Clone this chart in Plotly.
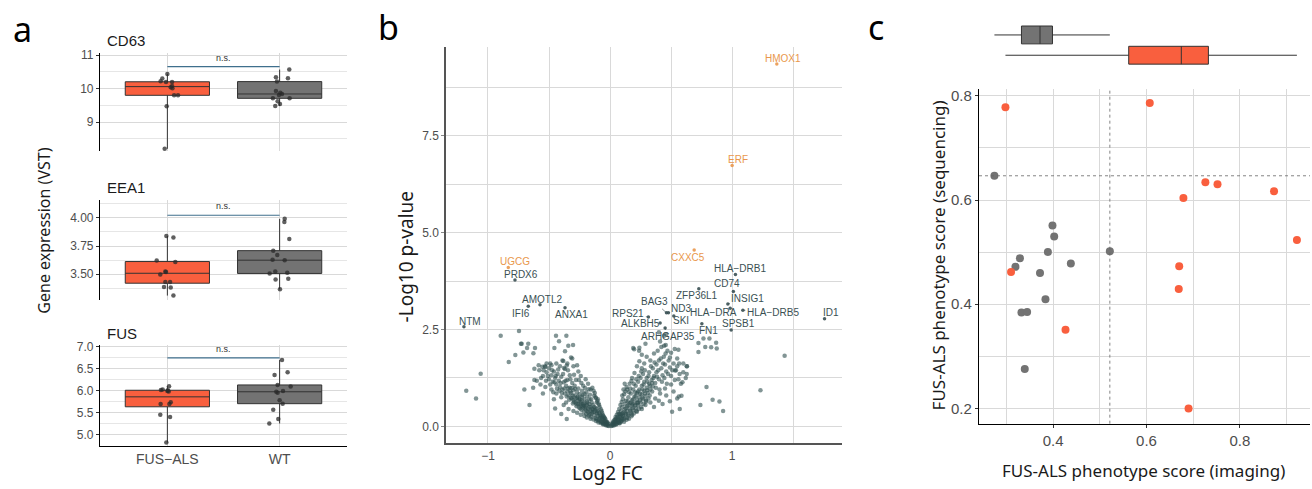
import numpy as np
import plotly.graph_objects as go

W, H = 1312, 489
TICK_FONT = "Liberation Sans, Arial, sans-serif"
TITLE_FONT = "Noto Sans, Open Sans, sans-serif"
RED = "#F95F3E"
GREY = "#737373"
GRID = "#d9d9d9"
GRID_MINOR = "#e6e6e6"

# ---------------- Panel a data ----------------
group_labels = ["FUS−ALS", "WT"]
gene_names = ["CD63", "EEA1", "FUS"]

cd63_fus = [10.44, 10.30, 10.22, 10.20, 10.20, 10.08, 10.04, 10.01, 9.80, 9.80, 9.47, 8.20]
cd63_fus_jitter = [0.0, -0.045, -0.06, -0.012, 0.042, 0.042, 0.03, 0.045, 0.06, 0.095, -0.006, -0.024]
cd63_wt = [10.57, 10.34, 10.31, 10.21, 9.93, 9.88, 9.84, 9.81, 9.71, 9.71, 9.62, 9.54, 9.48]
cd63_wt_jitter = [0.086, -0.033, 0.074, -0.024, -0.033, 0.006, 0.021, -0.006, -0.06, 0.089, -0.018, 0.003, -0.039]

eea1_fus = [3.839, 3.827, 3.621, 3.609, 3.524, 3.518, 3.497, 3.43, 3.43, 3.386, 3.38, 3.309]
eea1_fus_jitter = [-0.009, 0.054, -0.095, 0.071, -0.018, -0.012, -0.063, -0.018, 0.024, -0.03, 0.03, 0.054]
eea1_wt = [3.992, 3.965, 3.812, 3.709, 3.671, 3.627, 3.624, 3.524, 3.506, 3.512, 3.453, 3.459, 3.365]
eea1_wt_jitter = [0.045, 0.042, 0.086, -0.057, -0.021, -0.063, 0.045, -0.039, -0.089, 0.068, -0.036, 0.077, 0.003]

fus_fus = [6.106, 6.022, 6.03, 6.012, 6.0, 5.985, 5.745, 5.70, 5.70, 5.458, 5.406, 4.83]
fus_fus_jitter = [0.015, -0.057, -0.042, 0.005, 0.0, 0.012, 0.03, -0.06, 0.018, -0.063, 0.024, -0.009]
fus_wt = [6.70, 6.42, 6.36, 6.135, 6.10, 5.98, 6.0, 5.96, 5.79, 5.71, 5.57, 5.36, 5.26]
fus_wt_jitter = [0.021, 0.071, -0.045, -0.018, 0.098, -0.03, 0.03, -0.018, 0.0, 0.027, -0.057, -0.012, -0.092]

signif_y = [10.66, 4.024, 6.75]
signif_label = "n.s."

# ---------------- Panel b data ----------------
volcano_points = [
    # left arm
    (-0.02, 0.05), (-0.03, 0.04), (-0.04, 0.12), (-0.05, 0.08), (-0.06, 0.19), (-0.07, 0.13), (-0.08, 0.30),
    (-0.08, 0.22), (-0.09, 0.17), (-0.10, 0.40), (-0.10, 0.27), (-0.11, 0.33), (-0.12, 0.22), (-0.12, 0.48),
    (-0.13, 0.38), (-0.13, 0.29), (-0.14, 0.55), (-0.14, 0.44), (-0.15, 0.34), (-0.15, 0.62), (-0.16, 0.50),
    (-0.16, 0.40), (-0.17, 0.70), (-0.17, 0.58), (-0.18, 0.45), (-0.18, 0.36), (-0.19, 0.77), (-0.19, 0.64),
    (-0.20, 0.52), (-0.20, 0.43), (-0.21, 0.84), (-0.21, 0.70), (-0.22, 0.58), (-0.22, 0.48), (-0.23, 0.92),
    (-0.23, 0.76), (-0.24, 0.63), (-0.24, 0.53), (-0.25, 0.83), (-0.25, 0.69), (-0.26, 0.98), (-0.26, 0.58),
    (-0.27, 0.88), (-0.27, 0.74), (-0.28, 0.62), (-0.29, 1.05), (-0.29, 0.80), (-0.30, 0.93), (-0.30, 0.68),
    (-0.31, 1.12), (-0.32, 0.86), (-0.32, 0.74), (-0.33, 1.00), (-0.34, 0.80), (-0.35, 1.20), (-0.35, 0.90),
    (-0.36, 1.05), (-0.37, 0.85), (-0.38, 1.14), (-0.39, 0.95), (-0.40, 1.28), (-0.41, 1.02), (-0.42, 1.18),
    (-0.43, 1.35), (-0.44, 1.08), (-0.45, 1.25), (-0.46, 1.42), (-0.47, 1.15), (-0.48, 1.32), (-0.50, 1.22),
    (-0.52, 1.40), (-0.53, 1.53), (-0.55, 1.30), (-0.58, 1.45), (-0.60, 1.18),
    (-0.11, 0.62), (-0.13, 0.80), (-0.16, 0.95), (-0.18, 1.10), (-0.20, 1.22), (-0.22, 1.05), (-0.24, 1.30),
    (-0.26, 1.42), (-0.28, 1.20), (-0.30, 1.55), (-0.33, 1.32), (-0.35, 1.62), (-0.37, 1.48), (-0.39, 1.70),
    (-0.31, 1.75), (-0.27, 1.58), (-0.41, 1.55), (-0.44, 1.62), (-0.48, 1.58), (-0.50, 1.50), (-0.52, 1.62),
    (-0.36, 0.62), (-0.40, 0.75), (-0.44, 0.85), (-0.48, 0.95), (-0.53, 1.02), (-0.57, 1.08), (-0.62, 1.20),
    (-0.63, 1.00), (-0.55, 0.85), (-0.46, 0.70), (-0.38, 0.55), (-0.34, 0.45), (-0.30, 0.40), (-0.27, 0.35),
    (-0.24, 0.30), (-0.21, 0.27), (-0.16, 0.20), (-0.19, 0.23), (-0.06, 0.30), (-0.05, 0.24), (-0.04, 0.20),
    (-0.07, 0.40), (-0.09, 0.55), (-0.10, 0.70), (-0.12, 0.75), (-0.45, 0.46), (-0.355, 0.19), (-0.40, 0.32),
    (-0.01, 0.01), (-0.02, 0.02), (-0.03, 0.09), (-0.05, 0.16), (-0.06, 0.11), (-0.07, 0.25), (-0.09, 0.35),
    (-0.11, 0.45), (-0.13, 0.50), (-0.15, 0.45), (-0.17, 0.50), (-0.19, 0.55), (-0.21, 0.60), (-0.23, 0.66),
    (-0.25, 0.72), (-0.02, 0.10), (-0.04, 0.06), (-0.06, 0.07), (-0.08, 0.12), (-0.10, 0.15), (-0.11, 0.19),
    (-0.015, 0.06), (-0.025, 0.11), (-0.035, 0.15), (-0.045, 0.22), (-0.055, 0.27), (-0.065, 0.35),
    (-0.075, 0.44), (-0.085, 0.50), (-0.095, 0.60), (-0.105, 0.66), (-0.115, 0.73), (-0.125, 0.86),
    (-0.135, 0.92), (-0.145, 1.00), (-0.155, 0.70), (-0.165, 0.82), (-0.175, 0.96), (-0.185, 0.61),
    (-0.195, 0.88), (-0.205, 0.99), (-0.215, 0.54), (-0.225, 0.81), (-0.235, 1.12), (-0.245, 0.46),
    (-0.255, 1.20), (-0.265, 0.77), (-0.275, 0.52), (-0.285, 0.97), (-0.295, 1.33), (-0.305, 0.59),
    (-0.315, 0.99), (-0.325, 1.22), (-0.335, 0.69), (-0.345, 1.45), (-0.355, 0.77), (-0.365, 1.18),
    (-0.375, 0.98), (-0.385, 1.35), (-0.395, 0.86), (-0.405, 1.12), (-0.415, 0.92), (-0.425, 1.47),
    (-0.435, 0.97), (-0.445, 1.30), (-0.455, 1.14), (-0.465, 0.88), (-0.475, 1.45), (-0.49, 1.08),
    (-0.51, 1.30), (-0.525, 1.18), (-0.545, 1.45), (-0.565, 1.25), (-0.585, 1.58), (-0.035, 0.03),
    (-0.055, 0.05), (-0.075, 0.09), (-0.095, 0.10), (-0.115, 0.14), (-0.135, 0.18), (-0.155, 0.25),
    (-0.175, 0.28), (-0.195, 0.32), (-0.215, 0.37), (-0.235, 0.43), (-0.255, 0.49), (-0.275, 0.57),
    (-0.295, 0.63), (-0.315, 0.72), (-0.065, 0.21), (-0.085, 0.27), (-0.105, 0.36), (-0.125, 0.41),
    (-0.145, 0.37), (-0.165, 0.31), (-0.185, 0.40), (-0.205, 0.47), (-0.225, 0.53), (-0.245, 0.58),
    (-0.265, 0.66), (-0.285, 0.72), (-0.305, 0.80), (-0.325, 0.90), (-0.345, 0.98),
    # left scattered
    (-0.896, 2.34), (-0.746, 2.46), (-0.73, 2.13), (-0.776, 1.84), (-0.83, 1.66), (-0.68, 2.02), (-0.628, 1.89),
    (-0.615, 2.02), (-0.71, 1.91), (-1.06, 1.36), (-1.178, 0.92), (-1.098, 0.72), (-0.702, 0.95), (-0.66, 0.55),
    (-0.443, 2.34), (-0.358, 2.34), (-0.418, 2.20), (-0.342, 2.08), (-0.303, 2.10), (-0.369, 1.94),
    (-0.320, 1.78), (-0.383, 1.69), (-0.355, 1.57), (-0.377, 1.51), (-0.456, 2.02), (-0.533, 1.55),
    (-0.49, 1.62), (-0.62, 1.49), (-0.555, 1.54), (-0.724, 2.13), (-0.67, 2.13),
    # right arm
    (0.02, 0.04), (0.03, 0.10), (0.04, 0.07), (0.04, 0.18), (0.05, 0.13), (0.06, 0.25), (0.06, 0.10),
    (0.07, 0.18), (0.07, 0.32), (0.08, 0.24), (0.08, 0.14), (0.09, 0.40), (0.09, 0.30), (0.10, 0.20),
    (0.10, 0.50), (0.11, 0.36), (0.11, 0.27), (0.12, 0.58), (0.12, 0.44), (0.12, 0.22), (0.13, 0.66),
    (0.13, 0.32), (0.14, 0.52), (0.14, 0.40), (0.15, 0.75), (0.15, 0.28), (0.16, 0.60), (0.16, 0.46),
    (0.17, 0.85), (0.17, 0.36), (0.18, 0.68), (0.18, 0.53), (0.19, 0.95), (0.19, 0.42), (0.20, 0.77),
    (0.20, 0.60), (0.21, 1.05), (0.21, 0.48), (0.22, 0.86), (0.22, 0.68), (0.23, 1.15), (0.23, 0.55),
    (0.24, 0.95), (0.24, 0.75), (0.25, 1.25), (0.25, 0.62), (0.26, 1.05), (0.26, 0.83), (0.27, 1.35),
    (0.27, 0.70), (0.28, 1.15), (0.28, 0.92), (0.29, 0.78), (0.30, 1.25), (0.30, 1.00), (0.31, 0.86),
    (0.32, 1.40), (0.32, 1.10), (0.33, 0.95), (0.34, 1.20), (0.35, 1.50), (0.35, 1.03), (0.36, 1.30),
    (0.37, 1.12), (0.38, 1.60), (0.38, 1.40), (0.40, 1.22), (0.40, 1.70), (0.42, 1.50), (0.43, 1.32),
    (0.44, 1.80), (0.45, 1.60), (0.46, 1.42), (0.48, 1.70), (0.49, 1.52), (0.50, 1.30), (0.52, 1.62),
    (0.54, 1.45), (0.55, 1.75),
    (0.14, 0.95), (0.16, 1.10), (0.18, 1.25), (0.20, 1.38), (0.22, 1.55), (0.24, 1.68), (0.26, 1.50),
    (0.28, 1.62), (0.30, 1.80), (0.33, 1.70), (0.36, 1.88), (0.39, 1.95), (0.42, 2.05), (0.47, 1.95),
    (0.50, 1.90), (0.53, 2.00), (0.10, 0.80), (0.11, 0.95), (0.12, 1.10), (0.29, 0.55), (0.33, 0.62),
    (0.37, 0.72), (0.41, 0.85), (0.45, 0.98), (0.50, 1.08), (0.56, 1.22), (0.60, 1.40), (0.63, 1.55),
    (0.58, 1.10), (0.52, 0.90), (0.46, 0.80), (0.40, 0.66), (0.26, 0.45), (0.22, 0.38), (0.18, 0.30),
    (0.14, 0.22), (0.36, 0.50), (0.43, 0.58), (0.49, 0.65), (0.55, 0.72),
    (0.01, 0.01), (0.02, 0.02), (0.03, 0.05), (0.05, 0.20), (0.06, 0.16), (0.07, 0.11), (0.08, 0.32),
    (0.09, 0.20), (0.10, 0.33), (0.11, 0.18), (0.13, 0.47), (0.15, 0.55), (0.17, 0.62), (0.19, 0.70),
    (0.21, 0.78), (0.23, 0.90), (0.02, 0.08), (0.04, 0.12), (0.05, 0.05), (0.08, 0.08), (0.09, 0.12),
    (0.015, 0.06), (0.025, 0.13), (0.035, 0.16), (0.045, 0.24), (0.055, 0.30), (0.065, 0.37), (0.075, 0.45),
    (0.085, 0.55), (0.095, 0.63), (0.105, 0.70), (0.115, 0.83), (0.125, 0.90), (0.135, 1.02), (0.145, 0.65),
    (0.155, 0.88), (0.165, 0.98), (0.175, 1.17), (0.185, 0.58), (0.195, 1.10), (0.205, 0.88), (0.215, 1.22),
    (0.225, 0.62), (0.235, 1.30), (0.245, 0.84), (0.255, 1.42), (0.265, 0.95), (0.275, 1.08), (0.285, 1.45),
    (0.295, 0.67), (0.305, 1.15), (0.315, 1.30), (0.325, 0.80), (0.335, 1.55), (0.345, 0.90), (0.355, 1.25),
    (0.365, 1.65), (0.375, 1.00), (0.385, 1.28), (0.395, 1.45), (0.405, 0.95), (0.415, 1.75), (0.425, 1.15),
    (0.435, 1.62), (0.445, 1.25), (0.455, 1.88), (0.465, 1.10), (0.475, 1.35), (0.49, 1.78), (0.51, 1.45),
    (0.53, 1.20), (0.55, 1.55), (0.57, 1.35), (0.60, 1.62), (0.62, 1.25), (0.035, 0.03), (0.055, 0.07),
    (0.075, 0.09), (0.095, 0.15), (0.115, 0.12), (0.135, 0.17), (0.155, 0.20), (0.175, 0.26), (0.195, 0.33),
    (0.215, 0.40), (0.235, 0.45), (0.255, 0.50), (0.275, 0.58), (0.295, 0.64), (0.315, 0.72), (0.065, 0.21),
    (0.085, 0.28), (0.105, 0.28), (0.125, 0.36), (0.145, 0.31), (0.165, 0.40), (0.185, 0.47), (0.205, 0.54),
    (0.225, 0.60), (0.245, 0.67), (0.265, 0.74), (0.285, 0.85), (0.305, 0.93), (0.325, 1.05), (0.345, 1.12),
    # right scattered
    (0.29, 2.13), (0.238, 1.95), (0.19, 2.02), (0.26, 1.85), (0.41, 2.19), (0.443, 2.08), (0.456, 2.10),
    (0.40, 2.43), (0.443, 2.34), (0.46, 2.38), (0.56, 1.98), (0.724, 1.92), (0.78, 2.05), (0.828, 2.04),
    (0.874, 2.01), (1.43, 1.82), (1.232, 0.93), (0.79, 1.02), (0.74, 0.55), (0.84, 0.69), (0.896, 0.64),
    (0.926, 0.40), (0.566, 1.62), (0.628, 1.55), (0.508, 0.38), (0.571, 0.45), (0.585, 0.79), (0.563, 0.77),
    (0.628, 1.35), (0.533, 1.44), (0.593, 1.14), (0.765, 2.27), (0.814, 2.27), (0.869, 2.16), (0.724, 2.15),
    (0.197, 1.99), (0.24, 2.03),
]

volcano_genes = ["HMOX1", "ERF", "UGCG", "PRDX6", "CXXC5", "HLA−DRB1", "CD74", "ZFP36L1", "INSIG1",
                 "BAG3", "ND3", "RPS21", "HLA−DRA", "HLA−DRB5", "SKI", "ALKBH5", "SPSB1", "FN1",
                 "ARHGAP35", "NTM", "IFI6", "AMOTL2", "ANXA1", "ID1"]
volcano_gene_fc = [1.366, 1.0, -0.834, -0.779, 0.689, 1.027, 1.01, 0.727, 0.965, 0.462, 0.478, 0.314,
                   0.984, 1.088, 0.522, 0.41, 0.992, 0.752, 0.451, -1.197, -0.67, -0.574, -0.369, 1.757]
volcano_gene_p = [9.35, 6.73, 4.10, 3.78, 4.55, 3.92, 3.48, 3.55, 3.16, 2.93, 2.93, 2.82, 3.05, 3.00,
                  2.85, 2.67, 2.49, 2.65, 2.54, 2.57, 3.10, 3.14, 3.06, 2.78]
volcano_highlight = ["HMOX1", "ERF", "UGCG", "CXXC5"]

# ---------------- Panel c data ----------------
wt_imaging = [0.2744, 0.3987, 0.4024, 0.3889, 0.5215, 0.329, 0.3194, 0.438, 0.372, 0.3837, 0.3323, 0.3444, 0.3394]
wt_sequencing = [0.6465, 0.5512, 0.530, 0.5004, 0.5017, 0.4884, 0.4718, 0.478, 0.460, 0.4095, 0.384, 0.385, 0.2754]
fus_imaging = [0.298, 0.607, 0.726, 0.752, 0.873, 0.679, 0.922, 0.31, 0.670, 0.669, 0.4266, 0.690]
fus_sequencing = [0.778, 0.786, 0.634, 0.630, 0.617, 0.604, 0.523, 0.462, 0.473, 0.429, 0.351, 0.2]

# ---------------- helpers ----------------
def dom_x(a, b):
    return [a / W, b / W]

def dom_y(top, bottom):
    return [1 - bottom / H, 1 - top / H]

def stats(v):
    v = np.asarray(v, dtype=float)
    q1, med, q3 = np.percentile(v, [25, 50, 75])
    return float(q1), float(med), float(q3), float(v.min()), float(v.max())

fig = go.Figure()

# ---------------- Panel a traces ----------------
panel_a_data = [
    (cd63_fus, cd63_fus_jitter, cd63_wt, cd63_wt_jitter),
    (eea1_fus, eea1_fus_jitter, eea1_wt, eea1_wt_jitter),
    (fus_fus, fus_fus_jitter, fus_wt, fus_wt_jitter),
]
for i, (fv, fj, wv, wj) in enumerate(panel_a_data):
    xa = "x" if i == 0 else f"x{i+1}"
    ya = "y" if i == 0 else f"y{i+1}"
    for pos, vals, col in [(1, fv, RED), (2, wv, GREY)]:
        q1, med, q3, lo, hi = stats(vals)
        fig.add_trace(go.Box(x=[pos], q1=[q1], median=[med], q3=[q3], lowerfence=[lo], upperfence=[hi],
                             width=0.75, fillcolor=col, line=dict(color="#333333", width=1),
                             whiskerwidth=0, boxpoints=False, xaxis=xa, yaxis=ya, hoverinfo="skip"))
    for pos, vals, jit in [(1, fv, fj), (2, wv, wj)]:
        fig.add_trace(go.Scatter(x=[pos + j for j in jit], y=vals, mode="markers",
                                 marker=dict(size=4.5, color="#2a2a2a", opacity=0.75),
                                 xaxis=xa, yaxis=ya, hoverinfo="skip"))

# ---------------- Panel b traces ----------------
vx = [p[0] for p in volcano_points]
vy = [p[1] for p in volcano_points]
fig.add_trace(go.Scatter(x=vx, y=vy, mode="markers",
                         marker=dict(size=4.5, color="#2F4F4F", opacity=0.6),
                         xaxis="x4", yaxis="y4", hoverinfo="skip"))
DARK_LABEL = "#3a5053"
ORANGE = "#E9974C"
gcols = [ORANGE if g in volcano_highlight else DARK_LABEL for g in volcano_genes]
fig.add_trace(go.Scatter(x=volcano_gene_fc, y=volcano_gene_p, mode="markers",
                         marker=dict(size=3.5, color=gcols, opacity=0.9),
                         xaxis="x4", yaxis="y4", hoverinfo="skip"))

# label offsets in pixels (text centre relative to point)
label_offsets = {
    "HMOX1": (6, -6), "ERF": (6, -6), "UGCG": (7, -6), "PRDX6": (6, -5), "CXXC5": (-6, 7),
    "HLA−DRB1": (5, -6), "CD74": (-6, -8), "ZFP36L1": (-2, 7), "INSIG1": (20, -5), "BAG3": (-12, -11),
    "ND3": (13, -4), "RPS21": (-20, -4), "HLA−DRA": (-17, 4), "HLA−DRB5": (30, 2), "SKI": (7, 5),
    "ALKBH5": (-20, 1), "SPSB1": (7, -6), "FN1": (7, 7), "ARHGAP35": (3, 9), "NTM": (6, -5),
    "IFI6": (-7, 7), "AMOTL2": (2, -5), "ANXA1": (6, 7), "ID1": (6, -6),
}

annotations = []
for g, x, y, c in zip(volcano_genes, volcano_gene_fc, volcano_gene_p, gcols):
    ox, oy = label_offsets[g]
    annotations.append(dict(x=x, y=y, xref="x4", yref="y4", text=g, showarrow=True,
                            ax=ox, ay=oy, arrowhead=0, arrowwidth=0.6, arrowcolor=c, standoff=0,
                            font=dict(family=TICK_FONT, size=10, color=c)))

# ---------------- Panel c traces ----------------
fig.add_trace(go.Scatter(x=wt_imaging, y=wt_sequencing, mode="markers",
                         marker=dict(size=8, color=GREY), xaxis="x5", yaxis="y5", hoverinfo="skip"))
fig.add_trace(go.Scatter(x=fus_imaging, y=fus_sequencing, mode="markers",
                         marker=dict(size=8, color=RED), xaxis="x5", yaxis="y5", hoverinfo="skip"))
for pos, vals, col in [(1, wt_imaging, GREY), (0, fus_imaging, RED)]:
    q1, med, q3, lo, hi = stats(vals)
    fig.add_trace(go.Box(y=[pos], q1=[q1], median=[med], q3=[q3], lowerfence=[lo], upperfence=[hi],
                         orientation="h", width=0.88, fillcolor=col, line=dict(color="#333333", width=1),
                         whiskerwidth=0, boxpoints=False, xaxis="x6", yaxis="y6", hoverinfo="skip"))

imaging_threshold = max(wt_imaging)
sequencing_threshold = max(wt_sequencing)
shapes = [
    dict(type="line", xref="x5", yref="y5 domain", x0=imaging_threshold, x1=imaging_threshold, y0=0, y1=1,
         line=dict(color="#666666", width=0.8, dash="3px,3px")),
    dict(type="line", xref="x5 domain", yref="y5", x0=0, x1=1, y0=sequencing_threshold, y1=sequencing_threshold,
         line=dict(color="#666666", width=0.8, dash="3px,3px")),
]

# significance brackets panel a
for i, yb in enumerate(signif_y):
    xa = "x" if i == 0 else f"x{i+1}"
    ya = "y" if i == 0 else f"y{i+1}"
    shapes.append(dict(type="line", xref=xa, yref=ya, x0=1, x1=2, y0=yb, y1=yb,
                       line=dict(color="#3f6f8d", width=1.2)))
    annotations.append(dict(x=1.5, y=yb, xref=xa, yref=ya, text=signif_label, showarrow=False,
                            yanchor="bottom", yshift=2, font=dict(family=TICK_FONT, size=9, color="#333333")))

# panel a gene titles
for name, ypx in zip(gene_names, [36, 184, 332]):
    annotations.append(dict(x=105 / W, y=1 - ypx / H, xref="paper", yref="paper", text=name, showarrow=False,
                            xanchor="left", yanchor="middle", font=dict(family=TICK_FONT, size=15, color="#1a1a1a")))

def paper_text(text, xpx, ypx, size, angle=0, family=TITLE_FONT, color="#1a1a1a"):
    return dict(x=xpx / W, y=1 - ypx / H, xref="paper", yref="paper", text=text, showarrow=False,
                xanchor="center", yanchor="middle", textangle=angle, font=dict(family=family, size=size, color=color))

annotations += [
    paper_text("a", 22, 24, 34, family=TITLE_FONT, color="#000000"),
    paper_text("b", 388, 22, 34, family=TITLE_FONT, color="#000000"),
    paper_text("c", 876, 22, 34, family=TITLE_FONT, color="#000000"),
    paper_text("Gene expression (VST)", 44, 228, 16, angle=-90),
    paper_text("-Log10 p-value", 406, 255, 19, angle=-90),
    paper_text("Log2 FC", 607, 473, 19),
    paper_text("FUS-ALS phenotype score (sequencing)", 938, 253, 17, angle=-90),
    paper_text("FUS-ALS phenotype score (imaging)", 1143, 470, 17),
]

# ---------------- axes ----------------
tickfont_a = dict(family=TICK_FONT, size=12, color="#4d4d4d")

def xa_cat(domain, anchor, labels):
    return dict(domain=domain, anchor=anchor, range=[0.4, 2.6], tickvals=[1, 2], ticktext=group_labels,
                showticklabels=labels, showgrid=True, gridcolor=GRID, gridwidth=1, zeroline=False,
                showline=labels, linecolor="#000000", linewidth=1.2, ticks="",
                tickfont=dict(family=TICK_FONT, size=14, color="#4d4d4d"), fixedrange=True)

def ya_num(domain, anchor, rng, tv, tt, minor):
    return dict(domain=domain, anchor=anchor, range=rng, tickvals=tv, ticktext=tt, showgrid=True,
                gridcolor=GRID, gridwidth=1, zeroline=False, showline=True, linecolor="#000000", linewidth=1.2,
                ticks="outside", ticklen=3, tickcolor="#333333", tickfont=tickfont_a,
                minor=dict(tickvals=minor, showgrid=True, gridcolor=GRID_MINOR, gridwidth=1, ticks=""))

layout_axes = dict(
    xaxis=xa_cat(dom_x(100, 347), "y", False),
    yaxis=ya_num(dom_y(48, 148), "x", [8.12, 11.08], [9, 10, 11], ["9", "10", "11"], [8.5, 9.5, 10.5]),
    xaxis2=xa_cat(dom_x(100, 347), "y2", False),
    yaxis2=ya_num(dom_y(197, 298), "x2", [3.27, 4.16], [3.5, 3.75, 4.0], ["3.50", "3.75", "4.00"],
                  [3.375, 3.625, 3.875, 4.125]),
    xaxis3=xa_cat(dom_x(100, 347), "y3", True),
    yaxis3=ya_num(dom_y(344, 446), "x3", [4.74, 7.03], [5, 5.5, 6, 6.5, 7], ["5.0", "5.5", "6.0", "6.5", "7.0"],
                  [5.25, 5.75, 6.25, 6.75]),
    xaxis4=dict(domain=dom_x(446, 842), anchor="y4", range=[-1.344, 1.90], tickvals=[-1, 0, 1],
                ticktext=["−1", "0", "1"], showgrid=True, gridcolor=GRID, gridwidth=1.2, zeroline=False,
                showline=True, linecolor="#555555", linewidth=1.5, ticks="",
                tickfont=dict(family=TICK_FONT, size=12, color="#4d4d4d"),
                minor=dict(tickvals=[-0.5, 0.5, 1.5], showgrid=True, gridcolor=GRID, gridwidth=1.2, ticks="")),
    yaxis4=dict(domain=dom_y(42, 443), anchor="x4", range=[-0.44, 9.80], tickvals=[0, 2.5, 5, 7.5],
                ticktext=["0.0", "2.5", "5.0", "7.5"], showgrid=True, gridcolor=GRID, gridwidth=1.2,
                zeroline=False, showline=True, linecolor="#555555", linewidth=1.5, ticks="outside", ticklen=3,
                tickcolor="#888888", tickfont=dict(family=TICK_FONT, size=12, color="#4d4d4d"),
                minor=dict(tickvals=[1.25, 3.75, 6.25, 8.75], showgrid=True, gridcolor=GRID, gridwidth=1.2,
                           ticks="")),
    xaxis5=dict(domain=dom_x(979, 1310), anchor="y5", range=[0.2414, 0.95], tickvals=[0.4, 0.6, 0.8],
                ticktext=["0.4", "0.6", "0.8"], showgrid=True, gridcolor=GRID, gridwidth=1.2, zeroline=False,
                showline=True, linecolor="#000000", linewidth=1.2, ticks="outside", ticklen=3,
                tickcolor="#333333", tickfont=dict(family=TICK_FONT, size=15, color="#4d4d4d"),
                minor=dict(tickvals=[0.3, 0.5, 0.7, 0.9], showgrid=True, gridcolor=GRID, gridwidth=1.2,
                           ticks="")),
    yaxis5=dict(domain=dom_y(85, 423), anchor="x5", range=[0.1707, 0.8128], tickvals=[0.2, 0.4, 0.6, 0.8],
                ticktext=["0.2", "0.4", "0.6", "0.8"], showgrid=True, gridcolor=GRID, gridwidth=1.2,
                zeroline=False, showline=True, linecolor="#000000", linewidth=1.2, ticks="outside",
                ticklen=3, tickcolor="#333333", tickfont=dict(family=TICK_FONT, size=15, color="#4d4d4d"),
                minor=dict(tickvals=[0.3, 0.5, 0.7], showgrid=True, gridcolor=GRID, gridwidth=1.2, ticks="")),
    xaxis6=dict(domain=dom_x(979, 1310), anchor="y6", range=[0.2414, 0.95], visible=False),
    yaxis6=dict(domain=dom_y(20, 61), anchor="x6", range=[-0.5, 1.5], visible=False),
)

fig.update_layout(
    width=W, height=H, autosize=False,
    margin=dict(l=0, r=0, t=0, b=0, pad=0),
    paper_bgcolor="white", plot_bgcolor="white",
    showlegend=False, boxmode="overlay",
    annotations=annotations, shapes=shapes,
    **layout_axes,
)

fig.write_html("out.html")
